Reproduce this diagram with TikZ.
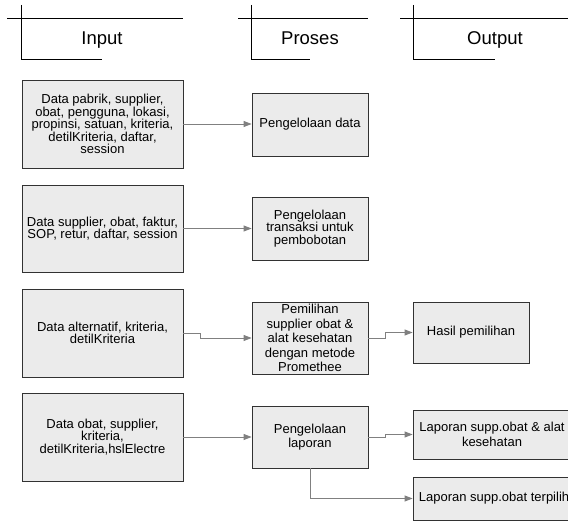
\documentclass[tikz,border=0pt]{standalone}
\usepackage{fontspec}
\setmainfont{Liberation Sans}
\usetikzlibrary{arrows.meta,calc}
\definecolor{boxgray}{RGB}{235,235,235}
\definecolor{linegray}{RGB}{128,128,128}
\definecolor{boxline}{RGB}{50,50,50}
\begin{document}
\begin{tikzpicture}[x=1pt,y=-1pt,
  box/.style={draw=boxline, fill=boxgray, line width=0.8pt, inner sep=0pt, align=center,
              font=\fontsize{13}{12.4}\selectfont},
  wide/.style={font=\fontsize{13}{14.4}\selectfont},
  conn/.style={draw=linegray, line width=0.9pt, -{Triangle[length=8pt,width=6pt]}},
  hline/.style={draw=black, line width=0.9pt},
  head/.style={font=\fontsize{18.5}{20}\selectfont, inner sep=0pt, anchor=base}]
\useasboundingbox (0,0) rectangle (568,521);
\clip (0,0) rectangle (568,521);

% headers
\draw[hline] (7,18) -- (183,18);
\draw[hline] (21,5) -- (21,59) -- (102,59);
\node[head] (hin) at (102,45) {Input};
\draw[hline] (238,18) -- (368,18);
\draw[hline] (251,5) -- (251,59) -- (310,59);
\node[head] (hpr) at (310,45) {Proses};
\draw[hline] (400,18) -- (568,18);
\draw[hline] (413,5) -- (413,59) -- (495,59);
\node[head] (hout) at (495,45) {Output};

% input boxes
\node[box, minimum width=161pt, minimum height=88pt] (b1) at (102.5,124)
  {Data pabrik, supplier,\\obat, pengguna, lokasi,\\propinsi, satuan, kriteria,\\detilKriteria, daftar,\\session};
\node[box, minimum width=161pt, minimum height=87pt] (b2) at (102.5,228.5)
  {Data supplier, obat, faktur,\\SOP, retur, daftar, session};
\node[box, minimum width=161pt, minimum height=88pt] (b3) at (102.5,333)
  {Data alternatif, kriteria,\\detilKriteria};
\node[box, minimum width=161pt, minimum height=88pt] (b4) at (102.5,437)
  {Data obat, supplier,\\kriteria,\\detilKriteria,hslElectre};

% process boxes
\node[box, minimum width=116pt, minimum height=63pt] (p1) at (310,124.5) {Pengelolaan data};
\node[box, minimum width=116pt, minimum height=63pt] (p2) at (310,228.5)
  {Pengelolaan\\transaksi untuk\\pembobotan};
\node[box, wide, minimum width=116pt, minimum height=72pt] (p3) at (310,338)
  {Pemilihan\\supplier obat \&\\alat kesehatan\\dengan metode\\Promethee};
\node[box, wide, minimum width=116pt, minimum height=62pt] (p4) at (310,437)
  {Pengelolaan\\laporan};

% output boxes
\node[box, minimum width=116pt, minimum height=61pt] (o1) at (471,332.5) {Hasil pemilihan};
\node[box, wide, minimum width=158pt, minimum height=49pt] (o2) at (492,434.5)
  {Laporan supp.obat \& alat\\kesehatan};
\node[box, minimum width=162pt, minimum height=43pt] (o3) at (494,498.5)
  {Laporan supp.obat terpilih};

% connectors
\draw[conn] (b1.east) -- (b1.east -| p1.west);
\draw[conn] (b2.east) -- (p2.west);
\draw[conn] (b3.east) -- ++(17,0) |- (p3.west);
\draw[conn] (b4.east) -- (p4.west);
\draw[conn] (p3.east) -- ++(17,0) |- (o1.west);
\draw[conn] (p4.east) -- ++(17,0) |- (o2.west);
\draw[conn] (p4.south) |- (o3.west);
\end{tikzpicture}
\end{document}
